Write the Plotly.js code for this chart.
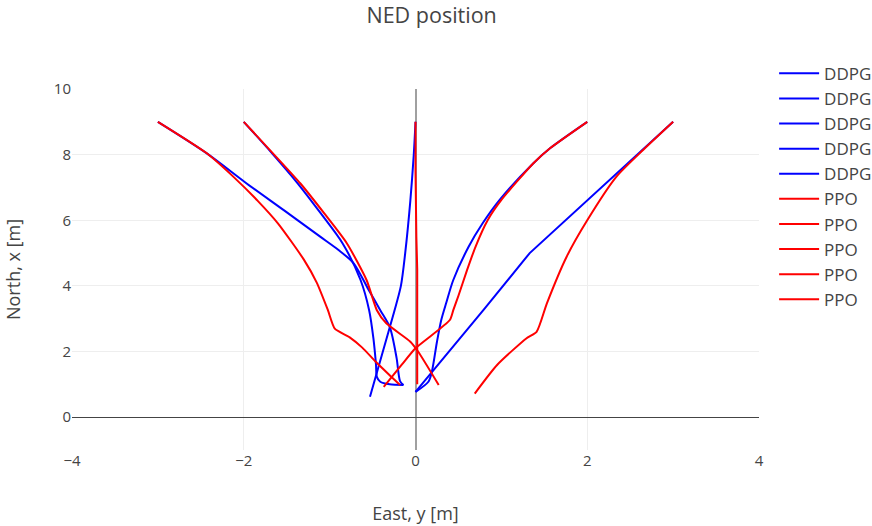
<!DOCTYPE html>
<html>
<head>
<meta charset="utf-8">
<script src="https://cdn.plot.ly/plotly-3.0.1.min.js"></script>
<style>html,body{margin:0;padding:0;background:#fff;}#chart{width:872px;height:526px;}</style>
</head>
<body>
<div id="chart"></div>
<script>
// DDPG trajectories (East y, North x)
const ddpgEast1 = [-3, -2.43, -1.97, -1.53, -1.11, -0.9, -0.72, -0.55, -0.41, -0.30, -0.22, -0.18, -0.14];
const ddpgNorth1 = [9, 8.04, 7.13, 6.3, 5.5, 5.1, 4.69, 3.9, 3.26, 2.75, 1.8, 1.1, 0.98];
const ddpgEast2 = [-2, -1.67, -1.37, -1.1, -0.85, -0.64, -0.54, -0.49, -0.46, -0.45, -0.41, -0.3, -0.14];
const ddpgNorth2 = [9, 8.04, 7.12, 6.2, 5.3, 4.18, 3.26, 2.4, 1.6, 1.23, 1.08, 1.0, 0.98];
const ddpgEast3 = [0, -0.02, -0.06, -0.12, -0.17, -0.25, -0.38, -0.53];
const ddpgNorth3 = [9, 8.0, 6.6, 5.0, 4.0, 3.2, 2.0, 0.62];
const ddpgEast4 = [2, 1.57, 1.37, 0.98, 0.78, 0.62, 0.44, 0.36, 0.30, 0.25, 0.19, 0.15, 0.0];
const ddpgNorth4 = [9, 8.2, 7.73, 6.62, 5.9, 5.2, 4.18, 3.5, 2.96, 2.3, 1.38, 1.08, 0.77];
const ddpgEast5 = [3, 2.17, 1.33, 0.79, 0.0];
const ddpgNorth5 = [9, 7.0, 5.0, 3.26, 0.77];

// PPO trajectories
const ppoEast1 = [-3, -2.43, -2.11, -1.84, -1.60, -1.30, -1.15, -1.02, -0.94, -0.77, -0.62, -0.46, -0.31, -0.18];
const ppoNorth1 = [9, 8.04, 7.3, 6.6, 5.9, 4.8, 4.1, 3.26, 2.7, 2.44, 2.12, 1.68, 1.3, 0.98];
const ppoEast2 = [-2, -1.66, -1.34, -1.06, -0.8, -0.57, -0.45, -0.34, -0.06, 0.03, 0.27];
const ppoNorth2 = [9, 8.04, 7.12, 6.2, 5.3, 4.18, 3.26, 2.86, 2.3, 2.0, 0.98];
const ppoEast3 = [0, 0, 0.01, 0.02, 0.02, 0.02];
const ppoNorth3 = [9, 7.5, 5.5, 4.5, 3.0, 1.0];
const ppoEast4 = [2, 1.57, 1.37, 1.0, 0.84, 0.70, 0.6, 0.5, 0.44, 0.40, 0.0, -0.16, -0.37];
const ppoNorth4 = [9, 8.2, 7.73, 6.62, 6.0, 5.2, 4.48, 3.7, 3.26, 2.96, 2.1, 1.6, 0.92];
const ppoEast5 = [3, 2.65, 2.34, 2.0, 1.76, 1.53, 1.41, 1.29, 0.95, 0.69];
const ppoNorth5 = [9, 8.14, 7.33, 6.0, 4.89, 3.47, 2.6, 2.4, 1.59, 0.72];

const ddpgE = [ddpgEast1, ddpgEast2, ddpgEast3, ddpgEast4, ddpgEast5];
const ddpgN = [ddpgNorth1, ddpgNorth2, ddpgNorth3, ddpgNorth4, ddpgNorth5];
const ppoE = [ppoEast1, ppoEast2, ppoEast3, ppoEast4, ppoEast5];
const ppoN = [ppoNorth1, ppoNorth2, ppoNorth3, ppoNorth4, ppoNorth5];

const traces = [];
for (let i = 0; i < ddpgE.length; i++) {
  traces.push({x: ddpgE[i], y: ddpgN[i], type: 'scatter', mode: 'lines', name: 'DDPG',
    line: {color: 'blue', width: 2, shape: i === 4 ? 'linear' : 'spline', smoothing: 0.8}});
}
for (let i = 0; i < ppoE.length; i++) {
  traces.push({x: ppoE[i], y: ppoN[i], type: 'scatter', mode: 'lines', name: 'PPO',
    line: {color: 'red', width: 2, shape: i === 2 ? 'linear' : 'spline', smoothing: 0.6}});
}

const layout = {
  width: 872, height: 526,
  margin: {l: 72, r: 113, t: 89, b: 76, autoexpand: false},
  paper_bgcolor: '#fff', plot_bgcolor: '#fff',
  font: {family: '"Open Sans", sans-serif', color: '#444'},
  title: {text: 'NED position', font: {size: 21.5, color: '#444'}, x: 0.495, xanchor: 'center', y: 0.97, yanchor: 'middle'},
  xaxis: {range: [-4, 4], dtick: 2, title: {text: 'East, y [m]', font: {size: 18}, standoff: 38}, tickfont: {size: 15},
    gridcolor: '#eee', zeroline: true, zerolinecolor: '#a0a0a0', zerolinewidth: 2},
  yaxis: {range: [-1, 10], dtick: 2, title: {text: 'North, x [m]', font: {size: 18}, standoff: 28}, tickfont: {size: 15},
    gridcolor: '#eee', zeroline: true, zerolinecolor: '#444', zerolinewidth: 1},
  legend: {font: {size: 17}, x: 1.022, xanchor: 'left', y: 1.092, yanchor: 'top', itemwidth: 40},
  showlegend: true
};

Plotly.newPlot('chart', traces, layout, {displayModeBar: false, staticPlot: true});
</script>
</body>
</html>
